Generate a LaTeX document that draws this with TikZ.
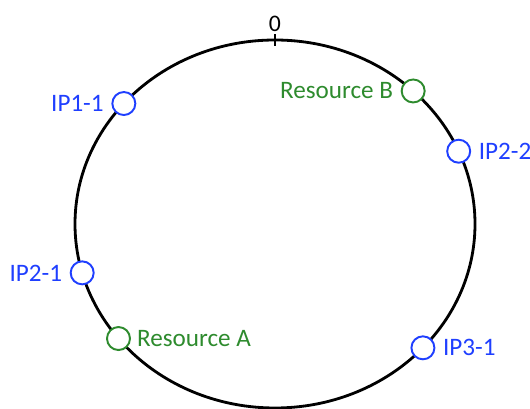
\documentclass[tikz,border=0pt]{standalone}
\usepackage{fontspec}
\setmainfont{Carlito}
\usepackage{tikz}
\usetikzlibrary{positioning, calc}
\definecolor{ipblue}{HTML}{1F3FFF}
\definecolor{resgreen}{HTML}{2E8B2E}

\begin{document}
\begin{tikzpicture}[
    ring/.style={draw=black, line width=1.6pt},
    ipnode/.style={circle, draw=ipblue, line width=1.1pt, fill=white, minimum size=0.46cm, inner sep=0pt},
    resnode/.style={circle, draw=resgreen, line width=1.1pt, fill=white, minimum size=0.46cm, inner sep=0pt},
    iplabel/.style={text=ipblue, font=\fontsize{14.3}{17}\selectfont},
    reslabel/.style={text=resgreen, font=\fontsize{14.3}{17}\selectfont}
]
\useasboundingbox (0,0) rectangle (10.6,8.18);

% hash ring
\coordinate (c) at (5.5,3.7);
\draw[ring] (c) ellipse [x radius=4, y radius=3.68];

% position 0
\coordinate (tickbot) at ($(c)+(0,3.56)$);
\coordinate (ticktop) at ($(c)+(0,3.80)$);
\draw[line width=1.1pt] (tickbot) -- (ticktop);
\node[font=\fontsize{13.5}{16}\selectfont, anchor=south, inner sep=1pt] (zero) at (ticktop) {0};

% servers
\node[ipnode] (ip11) at ($(c)+(139.1:4 and 3.68)$) {};
\node[iplabel, left=0.03cm of ip11] (ip11lbl) {IP1-1};

\node[ipnode] (ip22) at ($(c)+(23.3:4 and 3.68)$) {};
\node[iplabel, right=0.03cm of ip22] (ip22lbl) {IP2-2};

\node[ipnode] (ip21) at ($(c)+(195.4:4 and 3.68)$) {};
\node[iplabel, left=0.03cm of ip21] (ip21lbl) {IP2-1};

\node[ipnode] (ip31) at ($(c)+(317.7:4 and 3.68)$) {};
\node[iplabel, right=0.03cm of ip31] (ip31lbl) {IP3-1};

% resources
\node[resnode] (resb) at ($(c)+(46.3:4 and 3.68)$) {};
\node[reslabel, left=0.03cm of resb] (resblbl) {Resource B};

\node[resnode] (resa) at ($(c)+(218.5:4 and 3.68)$) {};
\node[reslabel, right=0.0cm of resa] (resalbl) {Resource A};
\end{tikzpicture}
\end{document}
